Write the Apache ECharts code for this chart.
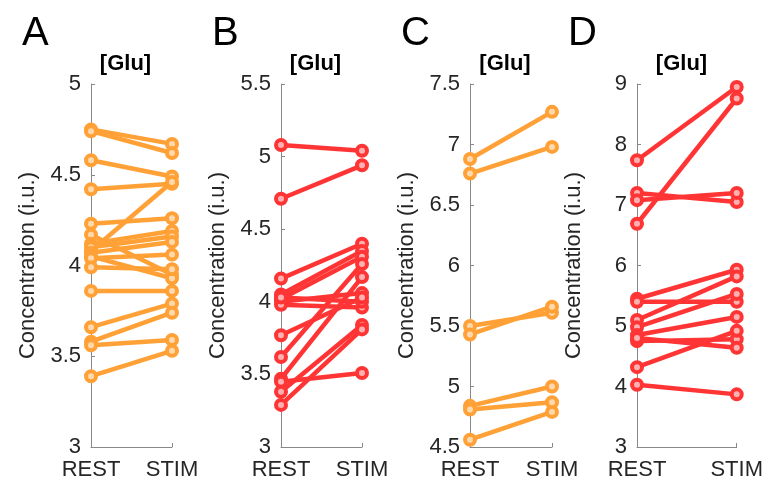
<!DOCTYPE html>
<html>
<head>
<meta charset="utf-8">
<script src="https://cdn.jsdelivr.net/npm/echarts@6/dist/echarts.min.js"></script>
<style>
html, body { margin: 0; padding: 0; background: #fff; }
#container { width: 766px; height: 481px; }
</style>
</head>
<body>
<div id="container"></div>
<script>
// data
var conditions = ['REST', 'STIM'];
var panelLetters = ['A', 'B', 'C', 'D'];

var restA = [4.75, 4.74, 4.58, 4.42, 4.08, 4.23, 4.17, 4.12, 4.10, 4.07, 4.05, 4.04, 3.99, 3.86, 3.66, 3.58, 3.56, 3.39];
var stimA = [4.67, 4.62, 4.49, 4.45, 4.46, 4.26, 3.95, 4.19, 4.16, 4.13, 3.93, 4.06, 3.98, 3.86, 3.79, 3.74, 3.59, 3.53];

var restB = [5.08, 4.71, 4.16, 4.05, 4.02, 4.00, 3.98, 4.03, 3.77, 3.62, 3.47, 3.45, 3.38, 3.29];
var stimB = [5.04, 4.94, 4.40, 4.35, 4.31, 4.06, 3.96, 4.00, 4.03, 4.26, 4.17, 3.51, 3.84, 3.81];

var restC = [6.88, 6.76, 5.50, 5.43, 4.84, 4.81, 4.56];
var stimC = [7.27, 6.98, 5.61, 5.66, 5.00, 4.87, 4.79];

var restD = [7.74, 6.69, 7.20, 7.08, 5.45, 5.40, 5.10, 4.98, 4.85, 4.75, 4.80, 4.32, 4.03];
var stimD = [8.95, 8.76, 7.05, 7.20, 5.93, 5.40, 5.82, 5.53, 5.15, 4.78, 4.64, 4.92, 3.87];

var yMin = [3, 3, 4.5, 3];
var yMax = [5, 5.5, 7.5, 9];
var yStep = [0.5, 0.5, 0.5, 1];

var orange = '#FFA136';
var red = '#FF3535';
var panelColors = [orange, red, orange, red];
var centerColors = ['#FFD9AE', '#FFB0B0', '#FFD9AE', '#FFB0B0'];
var restData = [restA, restB, restC, restD];
var stimData = [stimA, stimB, stimC, stimD];

// layout
var gridLeft = [91, 281, 470, 637];
var gridWidth = [81, 81, 82, 101];
var labelFont = "'Liberation Sans', Arial, sans-serif";
var textColor = '#262626';
var axisColor = '#888888';

var grids = [], xAxes = [], yAxes = [], series = [], graphics = [];

for (var p = 0; p < 4; p++) {
    grids.push({ left: gridLeft[p], width: gridWidth[p], top: 84, height: 364 });

    xAxes.push({
        type: 'category',
        gridIndex: p,
        data: conditions,
        boundaryGap: false,
        axisLine: { lineStyle: { color: axisColor, width: 1 } },
        axisTick: { inside: true, length: 4, lineStyle: { color: axisColor } },
        axisLabel: { color: textColor, fontSize: 22, fontFamily: labelFont, margin: 12 },
        splitLine: { show: false }
    });

    yAxes.push({
        type: 'value',
        gridIndex: p,
        min: yMin[p],
        max: yMax[p],
        interval: yStep[p],
        name: 'Concentration (i.u.)',
        nameLocation: 'middle',
        nameGap: 52,
        nameTextStyle: { color: textColor, fontSize: 22, fontFamily: labelFont },
        axisLine: { show: true, lineStyle: { color: axisColor, width: 1 } },
        axisTick: { show: true, inside: true, length: 4, lineStyle: { color: axisColor } },
        axisLabel: { color: textColor, fontSize: 22, fontFamily: labelFont, margin: 10 },
        splitLine: { show: false }
    });

    var rest = restData[p], stim = stimData[p];
    for (var i = 0; i < rest.length; i++) {
        series.push({
            type: 'line',
            xAxisIndex: p,
            yAxisIndex: p,
            data: [rest[i], stim[i]],
            symbol: 'circle',
            symbolSize: 10,
            clip: false,
            silent: true,
            animation: false,
            lineStyle: { color: panelColors[p], width: 4.5 },
            itemStyle: { color: centerColors[p], borderColor: panelColors[p], borderWidth: 4 }
        });
    }

    // panel letter and title
    graphics.push({
        type: 'text',
        left: gridLeft[p] - 69,
        top: 14,
        style: { text: panelLetters[p], font: "normal 40px 'Liberation Sans', sans-serif", fill: '#000' }
    });
    graphics.push({
        type: 'text',
        x: gridLeft[p] + gridWidth[p] / 2 - 6,
        y: 53,
        style: { text: '[Glu]', font: "bold 22px 'Liberation Sans', sans-serif", fill: '#000', textAlign: 'center', textVerticalAlign: 'top' }
    });
}

var dom = document.getElementById('container');
var myChart = echarts.init(dom, null, { renderer: 'canvas' });
var option = {
    backgroundColor: '#fff',
    animation: false,
    grid: grids,
    xAxis: xAxes,
    yAxis: yAxes,
    series: series,
    graphic: graphics
};
myChart.setOption(option);
window.addEventListener('resize', myChart.resize);
</script>
</body>
</html>
